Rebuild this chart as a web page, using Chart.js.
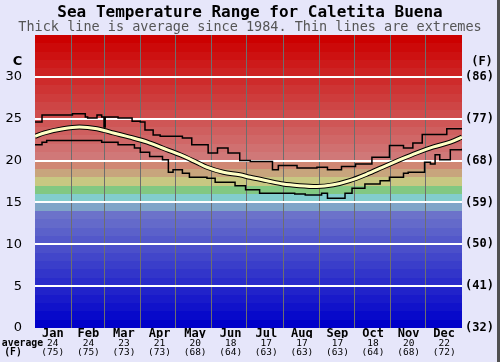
<!DOCTYPE html>
<html><head><meta charset="utf-8">
<script src="https://cdn.jsdelivr.net/npm/chart.js@4.4.1/dist/chart.umd.min.js"></script>
<style>html,body{margin:0;padding:0;background:#e6e6fa;}canvas{display:block}</style>
</head><body>
<canvas id="c" width="500" height="362"></canvas>
<script>
// ---- data ----
const months = ['Jan','Feb','Mar','Apr','May','Jun','Jul','Aug','Sep','Oct','Nov','Dec'];
const avgMonthC = [24,24,23,21,20,18,17,17,17,18,20,22];
const avgMonthF = [75,75,73,73,68,64,63,63,63,64,68,72];
const monthEdges = [31,59,90,120,151,181,212,243,273,304,334];
const cTicks = [0,5,10,15,20,25,30];
const fTicks = [32,41,50,59,68,77,86];

const maxDays  = [0,6,32,43,45,53,57,59,60,71,83,90,94,101,107,126,134,148,156,165,175,184,203,208,224,241,250,262,274,288,303,315,323,331,352,365];
const maxTemps = [24.6,25.45,25.6,25.2,25.1,25.45,25.2,24.0,25.2,25.1,24.7,24.6,23.65,23.06,22.9,22.7,21.9,20.9,21.5,20.9,20.0,19.9,18.9,19.4,19.1,19.2,18.9,19.3,19.6,20.4,21.8,21.5,22.1,23.1,23.8,23.7];

const minDays  = [0,6,10,57,71,85,90,98,109,114,118,126,132,147,154,171,180,192,222,231,245,250,265,271,282,295,303,315,319,333,338,342,346,355,365];
const minTemps = [21.9,22.2,22.4,22.2,21.9,21.5,21.0,20.5,20.1,18.6,18.9,18.5,18.0,17.9,17.4,17.0,16.5,16.1,16.0,15.9,16.1,15.5,16.1,16.7,17.2,17.6,18.0,18.5,18.6,19.8,19.6,20.7,20.1,21.3,21.4];

const avgDays  = [0,8,24,38,53,59,67,81,96,109,124,138,147,161,175,184,198,212,226,241,255,269,284,297,312,326,340,355,365];
const avgTemps = [22.9,23.3,23.8,24.0,23.8,23.6,23.3,22.8,22.2,21.5,20.7,19.8,19.2,18.6,18.3,18.0,17.6,17.2,17.0,16.9,17.1,17.6,18.4,19.2,20.1,20.9,21.6,22.2,22.8];

// ---- styling ----
const mono = "'DejaVu Sans Mono','Liberation Mono',monospace";
const sans = "'DejaVu Sans','Liberation Sans',sans-serif";
function bandColor(i){
  const special = {19:[208,135,115],18:[200,165,125],17:[200,200,130],16:[130,200,130],15:[130,205,205],14:[128,165,200]};
  let c;
  if (special[i]) c = special[i];
  else if (i >= 20) { const g = Math.round((34-i)*8.6); c = [204 + Math.round((34-i)*0.3), g, g]; }
  else { c = [Math.round(i*8.3), Math.round(i*8.8), 202]; }
  return 'rgb('+c.join(',')+')';
}
const toPts = (d, v) => d.map((x, i) => ({x: x, y: v[i]}));

const bands = {
  id: 'bands',
  beforeDraw(chart){
    const ctx = chart.ctx, a = chart.chartArea, y = chart.scales.y;
    ctx.save();
    ctx.fillStyle = '#e6e6fa';
    ctx.fillRect(0, 0, chart.width, chart.height);
    for (let i = 0; i < 35; i++) {
      const t = Math.round(y.getPixelForValue(i+1)), b = Math.round(y.getPixelForValue(i));
      ctx.fillStyle = bandColor(i);
      ctx.fillRect(a.left, t, a.right - a.left, b - t);
    }
    ctx.restore();
  },
  afterDraw(chart){
    const ctx = chart.ctx;
    ctx.save();
    ctx.fillStyle = '#000';
    ctx.textBaseline = 'middle';
    ctx.textAlign = 'center';
    ctx.font = "bold 13px " + sans;
    ctx.fillText('C', 17.5, 62);
    ctx.font = "bold 12px " + mono;
    ctx.fillText('(F)', 482, 62);
    ctx.font = "bold 9.8px " + mono;
    ctx.fillText('average', 22.5, 343);
    ctx.fillText('(F)', 13, 352.5);
    ctx.fillStyle = '#505050';
    ctx.fillRect(497, 0, 3, chart.height);
    ctx.restore();
  }
};

new Chart(document.getElementById('c'), {
  type: 'line',
  data: { datasets: [
    {label:'Average', order:0, data: toPts(avgDays, avgTemps), borderColor:'#ffffc4', borderWidth:3, cubicInterpolationMode:'monotone', pointRadius:0, fill:false},
    {label:'Average edge', order:1, data: toPts(avgDays, avgTemps), borderColor:'#000', borderWidth:5, cubicInterpolationMode:'monotone', pointRadius:0, fill:false},
    {label:'Maximum', order:2, data: toPts(maxDays, maxTemps), stepped: 'before', borderColor:'#000', borderWidth:1.5, pointRadius:0, fill:false},
    {label:'Minimum', order:2, data: toPts(minDays, minTemps), stepped: 'before', borderColor:'#000', borderWidth:1.5, pointRadius:0, fill:false}
  ]},
  options: {
    responsive:false, animation:false, devicePixelRatio:1,
    layout:{padding:0},
    plugins:{
      legend:{display:false}, tooltip:{enabled:false},
      title:{display:true, text:'Sea Temperature Range for Caletita Buena', color:'#000',
        font:{family:mono, size:16, weight:'bold', lineHeight:1}, padding:{top:5, bottom:0}},
      subtitle:{display:true, text:'Thick line is average since 1984. Thin lines are extremes', color:'#555',
        font:{family:mono, size:13.5, weight:'normal', lineHeight:1}, padding:{top:0, bottom:0.5}}
    },
    scales: {
      x: {type:'linear', min:0, max:365, position:'bottom', weight:0,
        afterBuildTicks: s => { s.ticks = monthEdges.map(v => ({value:v})); },
        ticks:{display:false}, grid:{color:'#6e6e6e', lineWidth:1, drawTicks:false}, border:{display:false},
        afterFit: s => { s.height = 0; }},
      xm: {type:'category', labels: months, offset:true, position:'bottom', weight:1,
        grid:{display:false, drawTicks:false}, border:{display:false},
        ticks:{font:{family:mono, size:12, weight:'bold', lineHeight:1}, color:'#000', padding:0, autoSkip:false, maxRotation:0},
        afterFit: s => { s.height = 10; }},
      xc: {type:'category', labels: avgMonthC.map(String), offset:true, position:'bottom', weight:2,
        grid:{display:false, drawTicks:false}, border:{display:false},
        ticks:{font:{family:mono, size:9.5, lineHeight:1}, color:'#000', padding:0.5, autoSkip:false, maxRotation:0},
        afterFit: s => { s.height = 9; }},
      xf: {type:'category', labels: avgMonthF.map(v => '(' + v + ')'), offset:true, position:'bottom', weight:3,
        grid:{display:false, drawTicks:false}, border:{display:false},
        ticks:{font:{family:mono, size:9.5, lineHeight:1}, color:'#000', padding:1, autoSkip:false, maxRotation:0},
        afterFit: s => { s.height = 15; }},
      y: {type:'linear', position:'left', min:0, max:35,
        afterBuildTicks: s => { s.ticks = cTicks.concat([35]).map(v => ({value:v})); },
        ticks:{color:'#000', font:{family:sans, size:13}, padding:13, callback: v => v === 35 ? '' : v},
        grid:{color: c => (c.tick && c.tick.value > 0 && c.tick.value < 35) ? '#ffffff' : 'rgba(0,0,0,0)', lineWidth:2, drawTicks:false},
        border:{display:false},
        afterFit: s => { s.width = 35; }},
      yF: {type:'linear', position:'right', min:32, max:95,
        afterBuildTicks: s => { s.ticks = fTicks.map(v => ({value:v})); },
        ticks:{color:'#000', font:{family:mono, size:12, weight:'bold'}, padding:3, callback: v => '(' + v + ')'},
        grid:{display:false, drawTicks:false}, border:{display:false},
        afterFit: s => { s.width = 38; }}
    }
  },
  plugins:[bands]
});
</script>
</body></html>
